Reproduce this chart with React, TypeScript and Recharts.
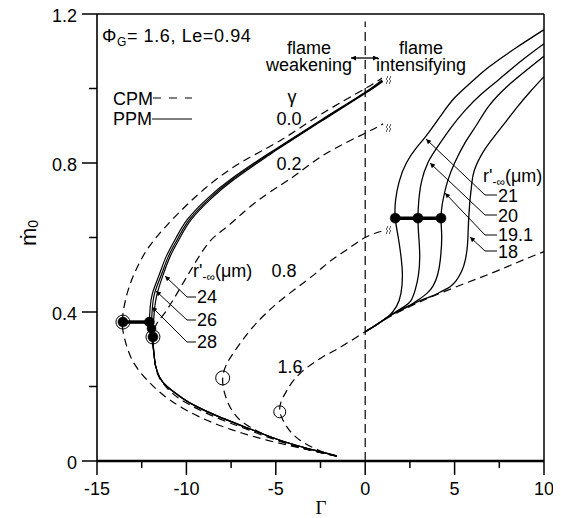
import React from 'react';
import { LineChart, Line, XAxis, YAxis, ReferenceLine, ReferenceDot } from 'recharts';

type P = { x: number; y: number };
const pts = (a: number[][]): P[] => a.map(([x, y]) => ({ x, y }));

const xTicks = [-15, -12.5, -10, -7.5, -5, -2.5, 0, 2.5, 5, 7.5, 10];
const xMajor = [-15, -10, -5, 0, 5, 10];
const yTicks = [0, 0.2, 0.4, 0.6, 0.8, 1.0, 1.2];
const yMajor = [0, 0.4, 0.8, 1.2];

// CPM (dashed) curves, gamma = 0.0, 0.2, 0.8, 1.6
const cpmG00 = pts([[-1.6,0.013],[-2.6,0.024],[-3.65,0.035],[-5.5,0.056],[-7.4,0.083],[-9.25,0.118],[-10.9,0.163],[-12.05,0.21],[-12.9,0.26],[-13.35,0.31],[-13.55,0.35],[-13.58,0.375],[-13.5,0.41],[-13.25,0.46],[-12.85,0.51],[-12.3,0.56],[-11.6,0.605],[-10.55,0.66],[-9.0,0.73],[-7.0,0.8],[-4.76,0.86],[-2.5,0.93],[0,1.0],[0.94,1.028]]);
const cpmG02 = pts([[-1.6,0.013],[-2.7,0.025],[-4.6,0.05],[-6.44,0.082],[-8.29,0.116],[-10.19,0.161],[-11.08,0.196],[-11.5,0.222],[-11.72,0.252],[-11.82,0.29],[-11.87,0.333],[-11.75,0.36],[-11.5,0.38],[-11.1,0.405],[-10.4,0.46],[-9.6,0.525],[-8.68,0.59],[-7.7,0.63],[-6.3,0.688],[-4.76,0.74],[-3.65,0.776],[-2.14,0.827],[0,0.88],[1.0,0.905]]);
const cpmG08 = pts([[-1.6,0.013],[-2.7,0.025],[-4.6,0.051],[-6.44,0.091],[-7.2,0.12],[-7.56,0.145],[-7.85,0.18],[-7.97,0.223],[-7.75,0.26],[-7.3,0.295],[-6.27,0.36],[-4.76,0.43],[-3,0.495],[-2,0.535],[-1,0.568],[0,0.6],[1.0,0.618]]);
const cpmG16 = pts([[-1.6,0.013],[-2.36,0.024],[-3.65,0.056],[-4.37,0.091],[-4.65,0.115],[-4.78,0.134],[-4.7,0.16],[-4.37,0.19],[-3.65,0.235],[-2.36,0.28],[-1.58,0.3],[0,0.347],[1,0.377],[2,0.403],[3.2,0.43],[5,0.466],[7,0.503],[8.5,0.533],[10,0.562]]);

// PPM (solid) curves, flame weakening side
const ppmLower = [[-1.6,0.014],[-2.7,0.027],[-4.6,0.053],[-6.44,0.086],[-8.29,0.121],[-9.5,0.148],[-10.2,0.168],[-11.08,0.2],[-11.5,0.225],[-11.72,0.255],[-11.82,0.29]];
const ppm28 = pts([...ppmLower,[-11.95,0.33],[-12.05,0.355],[-12.07,0.373],[-12.03,0.41],[-11.9,0.45],[-11.52,0.5],[-11.12,0.55],[-10.57,0.6],[-9.92,0.65],[-8.82,0.705],[-7.5,0.757],[-5.58,0.82],[-4.83,0.843],[-2.48,0.915],[0,0.99],[0.94,1.023]]);
const ppm26 = pts([...ppmLower,[-11.9,0.33],[-11.95,0.355],[-11.92,0.4],[-11.78,0.45],[-11.4,0.5],[-11.0,0.55],[-10.45,0.6],[-9.8,0.65],[-8.7,0.705],[-7.4,0.757],[-5.5,0.82],[-4.76,0.843],[-2.42,0.915],[0.05,0.99],[0.96,1.021]]);
const ppm24 = pts([...ppmLower,[-11.87,0.333],[-11.83,0.38],[-11.68,0.44],[-11.3,0.5],[-10.9,0.55],[-10.35,0.6],[-9.7,0.65],[-8.6,0.705],[-7.3,0.757],[-5.42,0.82],[-4.7,0.843],[-2.36,0.915],[0.1,0.99],[0.98,1.019]]);

// PPM (solid) curves, flame intensifying side
const ppm21 = pts([[0,0.347],[0.7,0.368],[1.3,0.388],[1.75,0.415],[2.0,0.45],[2.08,0.5],[2.0,0.55],[1.85,0.6],[1.68,0.652],[1.7,0.7],[1.9,0.75],[2.3,0.8],[2.85,0.84],[3.4,0.872],[4.2,0.925],[5.0,0.975],[6.0,1.02],[6.9,1.057],[8.4,1.108],[10,1.158]]);
const ppm20 = pts([[0,0.347],[0.7,0.368],[1.3,0.388],[1.8,0.403],[2.2,0.415],[2.55,0.43],[2.8,0.46],[2.98,0.5],[3.05,0.55],[3.0,0.6],[2.95,0.652],[3.0,0.7],[3.15,0.75],[3.5,0.8],[4.07,0.845],[4.8,0.895],[5.6,0.942],[6.5,0.985],[7.45,1.023],[8.7,1.073],[10,1.12]]);
const ppm191 = pts([[0,0.347],[0.7,0.368],[1.3,0.388],[1.9,0.404],[2.5,0.418],[2.95,0.432],[3.45,0.45],[3.8,0.47],[4.05,0.5],[4.2,0.54],[4.28,0.6],[4.24,0.652],[4.35,0.7],[4.6,0.75],[5.0,0.8],[5.58,0.854],[6.2,0.9],[6.87,0.95],[7.6,0.99],[8.4,1.025],[10,1.087]]);
const ppm18 = pts([[0,0.347],[0.7,0.368],[1.3,0.388],[2,0.405],[2.7,0.422],[3.3,0.435],[3.8,0.444],[4.3,0.456],[4.75,0.468],[5.1,0.485],[5.4,0.51],[5.6,0.54],[5.72,0.58],[5.76,0.62],[5.8,0.66],[5.86,0.7],[5.95,0.74],[6.1,0.78],[6.6,0.83],[7.2,0.87],[7.85,0.91],[8.5,0.95],[9.2,0.99],[10,1.032]]);

// marked points
const openCircles = [[-13.55,0.373,7],[-11.87,0.333,7],[-7.97,0.223,7],[-4.78,0.132,6]];
const filledLeft = [[-13.55,0.373],[-12.07,0.373],[-11.95,0.355],[-11.87,0.333]];
const filledRight = [[1.68,0.652],[2.95,0.652],[4.24,0.652]];

const FONT = "'Liberation Sans', Arial, Helvetica, sans-serif";

const XTick = (props: any) => {
  const { x, y, payload } = props;
  const v = payload.value;
  const major = xMajor.includes(v);
  return (
    <g>
      <line x1={x} x2={x} y1={y} y2={y + (major ? 14 : 7)} stroke="#000" strokeWidth={1.5} />
      {major && (
        <text x={x} y={y + 34} textAnchor="middle" fontSize={18} fontFamily={FONT} fill="#000">{String(v)}</text>
      )}
    </g>
  );
};

const YTick = (props: any) => {
  const { x, y, payload } = props;
  const v = payload.value;
  const major = yMajor.includes(v);
  return (
    <g>
      <line x1={x - (major ? 15 : 8)} x2={x} y1={y} y2={y} stroke="#000" strokeWidth={1.5} />
      {major && (
        <text x={x - 20} y={y + 8} textAnchor="end" fontSize={18} fontFamily={FONT} fill="#000">{v === 0 ? '0' : v.toFixed(1)}</text>
      )}
    </g>
  );
};

const dashed = '8 5';

export default function App() {
  const T = (p: any) => <text fontFamily={FONT} fontSize={18} fill="#000" {...p} />;
  const brk = (x: number, y: number) => (
    <g key={`${x}-${y}`} stroke="#000" strokeWidth={0.8} fill="none">
      <path d={`M ${x - 2} ${y - 4} c 2 1.3 -2 2.7 0 4 c 2 1.3 -2 2.7 0 4`} />
      <path d={`M ${x + 1} ${y - 4} c 2 1.3 -2 2.7 0 4 c 2 1.3 -2 2.7 0 4`} />
    </g>
  );
  return (
    <div style={{ position: 'relative', width: 561, height: 518, marginLeft: -8, marginTop: -8 }}>
      <LineChart width={561} height={518} margin={{ top: 14, right: 17, bottom: 27, left: 37 }}>
        <XAxis type="number" dataKey="x" domain={[-15, 10]} ticks={xTicks} interval={0} tickSize={0} tickMargin={0}
          tickLine={false} tick={<XTick />} axisLine={{ stroke: '#000', strokeWidth: 2.5 }} height={30} allowDataOverflow />
        <YAxis type="number" dataKey="y" domain={[0, 1.2]} ticks={yTicks} interval={0} tickSize={0} tickMargin={0}
          tickLine={false} tick={<YTick />} axisLine={{ stroke: '#000', strokeWidth: 1.6 }} width={60} allowDataOverflow />
        <ReferenceLine y={1.2} stroke="#000" strokeWidth={1.5} ifOverflow="visible" />
        <ReferenceLine x={10} stroke="#000" strokeWidth={1.5} ifOverflow="visible" />
        <ReferenceLine segment={[{ x: 0, y: 0 }, { x: 0, y: 1.18 }]} stroke="#000" strokeWidth={1.2} strokeDasharray="9 5" />

        <Line data={cpmG00} dataKey="y" type="natural" stroke="#000" strokeWidth={1.2} strokeDasharray={dashed} dot={false} isAnimationActive={false} />
        <Line data={cpmG02} dataKey="y" type="natural" stroke="#000" strokeWidth={1.2} strokeDasharray={dashed} dot={false} isAnimationActive={false} />
        <Line data={cpmG08} dataKey="y" type="natural" stroke="#000" strokeWidth={1.2} strokeDasharray={dashed} dot={false} isAnimationActive={false} />
        <Line data={cpmG16} dataKey="y" type="natural" stroke="#000" strokeWidth={1.2} strokeDasharray={dashed} dot={false} isAnimationActive={false} />

        <Line data={ppm28} dataKey="y" type="natural" stroke="#000" strokeWidth={1.2} dot={false} isAnimationActive={false} />
        <Line data={ppm26} dataKey="y" type="natural" stroke="#000" strokeWidth={1.2} dot={false} isAnimationActive={false} />
        <Line data={ppm24} dataKey="y" type="natural" stroke="#000" strokeWidth={1.2} dot={false} isAnimationActive={false} />

        <Line data={ppm21} dataKey="y" type="natural" stroke="#000" strokeWidth={1.3} dot={false} isAnimationActive={false} />
        <Line data={ppm20} dataKey="y" type="natural" stroke="#000" strokeWidth={1.3} dot={false} isAnimationActive={false} />
        <Line data={ppm191} dataKey="y" type="natural" stroke="#000" strokeWidth={1.3} dot={false} isAnimationActive={false} />
        <Line data={ppm18} dataKey="y" type="natural" stroke="#000" strokeWidth={1.3} dot={false} isAnimationActive={false} />

        <ReferenceLine segment={[{ x: filledLeft[0][0], y: filledLeft[0][1] }, { x: filledLeft[1][0], y: filledLeft[1][1] }]} stroke="#000" strokeWidth={3.5} />
        <ReferenceLine segment={[{ x: filledLeft[1][0], y: filledLeft[1][1] }, { x: filledLeft[3][0], y: filledLeft[3][1] }]} stroke="#000" strokeWidth={3.5} />
        <ReferenceLine segment={[{ x: filledRight[0][0], y: filledRight[0][1] }, { x: filledRight[2][0], y: filledRight[2][1] }]} stroke="#000" strokeWidth={3.5} />

        {openCircles.map(([x, y, r], i) => (
          <ReferenceDot key={`o${i}`} x={x} y={y} r={r} fill="none" stroke="#000" strokeWidth={1} ifOverflow="visible" />
        ))}
        {filledLeft.map(([x, y], i) => (
          <ReferenceDot key={`fl${i}`} x={x} y={y} r={i === 2 ? 4.5 : 5} fill="#000" stroke="#000" strokeWidth={0.5} ifOverflow="visible" />
        ))}
        {filledRight.map(([x, y], i) => (
          <ReferenceDot key={`fr${i}`} x={x} y={y} r={5} fill="#000" stroke="#000" strokeWidth={0.5} ifOverflow="visible" />
        ))}
      </LineChart>

      <svg width={561} height={518} style={{ position: 'absolute', left: 0, top: 0, pointerEvents: 'none' }}>
        <defs>
          <marker id="ah" viewBox="0 0 10 10" refX="10" refY="5" markerWidth="8" markerHeight="5" markerUnits="userSpaceOnUse" orient="auto-start-reverse">
            <path d="M0,0 L10,5 L0,10 z" fill="#000" />
          </marker>
        </defs>
        <g>
          <T x={102} y={42} letterSpacing={0.6}>Φ<tspan fontSize={12} dy={4}>G</tspan><tspan dy={-4}>= 1.6, Le=0.94</tspan></T>

          <T x={309} y={54} textAnchor="middle">flame</T>
          <T x={309} y={71} textAnchor="middle">weakening</T>
          <T x={421} y={54} textAnchor="middle">flame</T>
          <T x={421} y={71} textAnchor="middle">intensifying</T>
          <line x1={351} x2={378} y1={58} y2={58} stroke="#000" strokeWidth={1.3} markerStart="url(#ah)" markerEnd="url(#ah)" />

          <T x={292} y={103} textAnchor="middle">γ</T>
          <T x={289} y={125} textAnchor="middle">0.0</T>
          <T x={289} y={170} textAnchor="middle">0.2</T>
          <T x={284} y={277} textAnchor="middle">0.8</T>
          <T x={290} y={373} textAnchor="middle">1.6</T>

          <T x={113} y={105}>CPM</T>
          <line x1={153} x2={192} y1={98} y2={98} stroke="#000" strokeWidth={1.2} strokeDasharray="8 8" />
          <T x={113} y={125}>PPM</T>
          <line x1={152} x2={192} y1={119} y2={119} stroke="#000" strokeWidth={1.2} />

          <T x={193} y={277}>r'<tspan fontSize={12} dy={4}>-∞</tspan><tspan dy={-4}>(μm)</tspan></T>
          <T x={197} y={303}>24</T>
          <T x={197} y={326}>26</T>
          <T x={197} y={348}>28</T>
          <polyline points="196,297 187,297 165,276" fill="none" stroke="#000" strokeWidth={1} markerEnd="url(#ah)" />
          <polyline points="196,320 187,320 156,291" fill="none" stroke="#000" strokeWidth={1} markerEnd="url(#ah)" />
          <polyline points="196,342 187,342 152,307" fill="none" stroke="#000" strokeWidth={1} markerEnd="url(#ah)" />

          <T x={483} y={182}>r'<tspan fontSize={12} dy={4}>-∞</tspan><tspan dy={-4}>(μm)</tspan></T>
          <T x={498} y={202}>21</T>
          <T x={498} y={222}>20</T>
          <T x={498} y={241}>19.1</T>
          <T x={498} y={258}>18</T>
          <polyline points="497,195 485,195 426,139" fill="none" stroke="#000" strokeWidth={1} markerEnd="url(#ah)" />
          <polyline points="497,215 485,215 430,163" fill="none" stroke="#000" strokeWidth={1} markerEnd="url(#ah)" />
          <polyline points="497,235 485,235 445,193" fill="none" stroke="#000" strokeWidth={1} markerEnd="url(#ah)" />
          <polyline points="497,251 485,251 470,237" fill="none" stroke="#000" strokeWidth={1} markerEnd="url(#ah)" />

          {brk(389, 80)}
          {brk(389, 128)}
          {brk(389, 230)}

          <text x={321} y={514} textAnchor="middle" fontFamily="'Liberation Serif', 'DejaVu Serif', serif" fontSize={19} fill="#000">Γ</text>
          <text x={36} y={233} transform="rotate(-90 36 233)" textAnchor="middle" fontFamily={FONT} fontSize={22} fill="#000">ṁ<tspan fontSize={14} dy={2}>0</tspan></text>
        </g>
      </svg>
    </div>
  );
}
